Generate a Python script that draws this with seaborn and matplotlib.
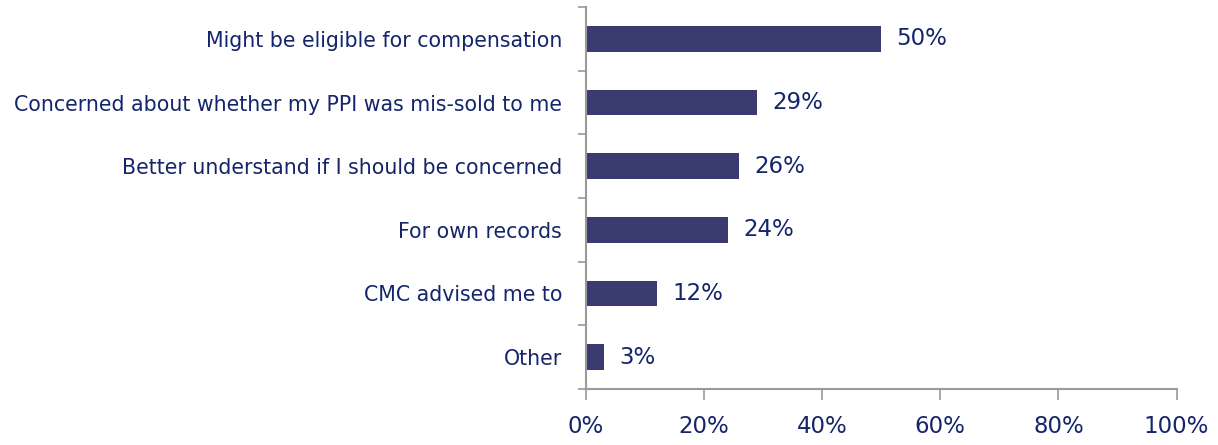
import matplotlib
matplotlib.use('Agg')
import matplotlib.pyplot as plt
import seaborn as sns
import pandas as pd
from matplotlib.ticker import FuncFormatter

sns.set_style('white')
plt.rcParams['font.family'] = ['DejaVu Sans']

# Data
reasons = [
    "Might be eligible for compensation",
    "Concerned about whether my PPI was mis-sold to me",
    "Better understand if I should be concerned",
    "For own records",
    "CMC advised me to",
    "Other",
]
shares = [50, 29, 26, 24, 12, 3]
x_ticks = [0, 20, 40, 60, 80, 100]

df = pd.DataFrame({'reason': reasons, 'share': shares})

bar_color = '#3a3b6f'
text_color = '#14256b'
axis_grey = '#9a9a9a'

fig = plt.figure(figsize=(12.18, 4.45), dpi=100)
ax = fig.add_axes([0.481, 0.126, 0.485, 0.858])

sns.barplot(data=df, x='share', y='reason', orient='h', color=bar_color,
            saturation=1, width=0.4, linewidth=0, ax=ax)

for i, v in enumerate(shares):
    ax.text(v + 2.6, i, f"{v}%", va='center', ha='left',
            fontsize=16.5, color=text_color)

ax.set_xlim(0, 100)
ax.set_ylim(len(reasons) - 0.5, -0.5)
ax.set_xticks(x_ticks)
ax.xaxis.set_major_formatter(FuncFormatter(lambda v, p: f"{int(v)}%"))
ax.set_xlabel('')
ax.set_ylabel('')

# category separators as ticks on the left spine
ax.set_yticks([i - 0.5 for i in range(len(reasons) + 1)], minor=True)
ax.tick_params(axis='y', which='major', left=False, length=0, pad=17,
               labelsize=14.8, labelcolor=text_color)
ax.tick_params(axis='y', which='minor', left=True, length=5.5, width=1.2,
               color=axis_grey, direction='out')
ax.tick_params(axis='x', which='major', bottom=True, length=8, width=1.2,
               color=axis_grey, direction='out', pad=11,
               labelsize=16.5, labelcolor=text_color)

for side in ['top', 'right']:
    ax.spines[side].set_visible(False)
for side in ['left', 'bottom']:
    ax.spines[side].set_color(axis_grey)
    ax.spines[side].set_linewidth(1.5)

fig.savefig('out.png', dpi=100)
